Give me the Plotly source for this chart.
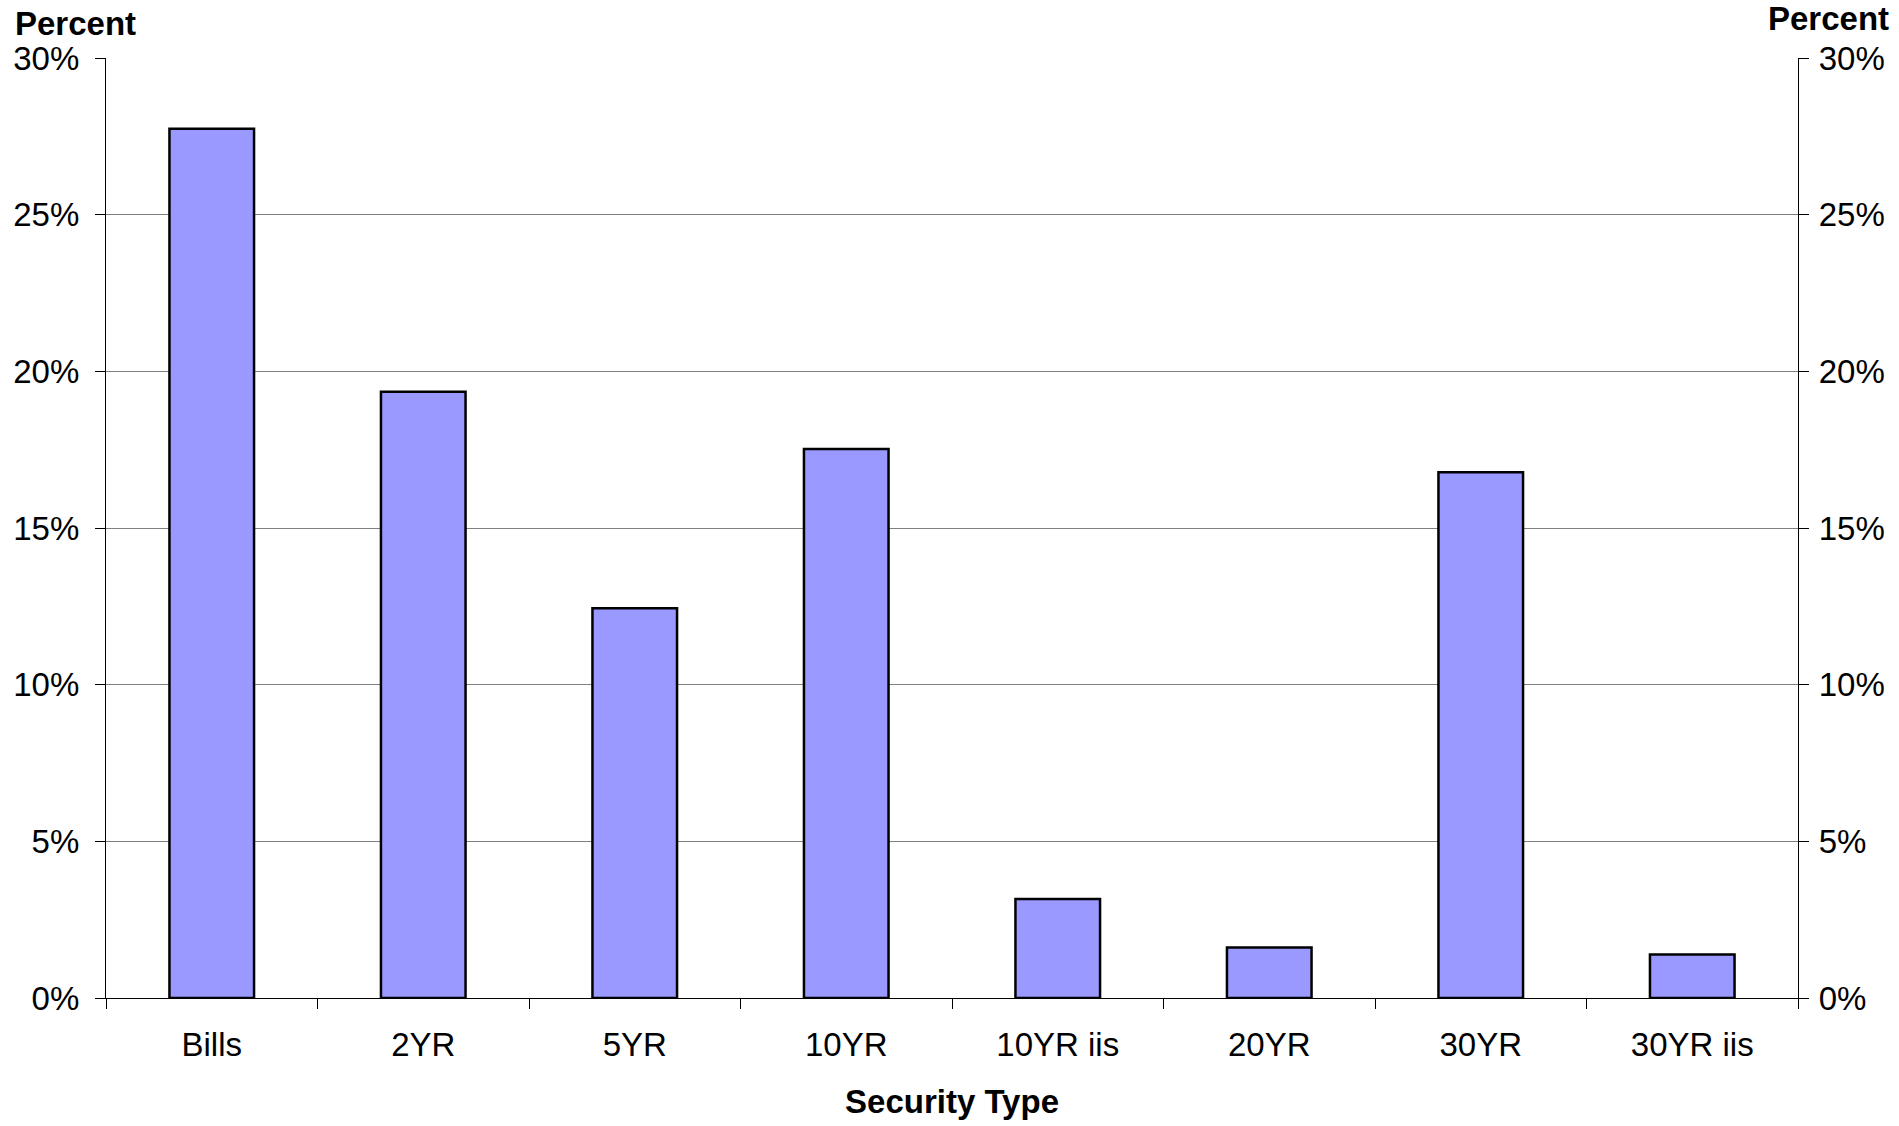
import plotly.graph_objects as go

# Share of issuance by security type (percent)
categories = ["Bills", "2YR", "5YR", "10YR", "10YR iis", "20YR", "30YR", "30YR iis"]
shares = [27.74, 19.35, 12.44, 17.52, 3.16, 1.61, 16.78, 1.39]
y_ticks = [0, 5, 10, 15, 20, 25, 30]
y_tick_text = [f"{v}%" for v in y_ticks]

FONT = "Liberation Sans, Arial, sans-serif"
BAR_FILL = "#9999FF"

fig = go.Figure()
fig.add_trace(go.Bar(
    x=categories,
    y=shares,
    marker=dict(color=BAR_FILL, line=dict(color="black", width=2.5)),
    hoverinfo="x+y",
    showlegend=False,
))
# Invisible companion trace so the right-hand axis is rendered
fig.add_trace(go.Scatter(
    x=categories,
    y=shares,
    yaxis="y2",
    mode="markers",
    marker=dict(size=0.1, opacity=0),
    hoverinfo="skip",
    showlegend=False,
))

axis_common = dict(
    range=[0, 30],
    tickvals=y_ticks,
    ticktext=y_tick_text,
    ticks="outside",
    ticklen=10,
    tickwidth=1,
    tickcolor="black",
    showline=True,
    linecolor="black",
    linewidth=1.2,
    tickfont=dict(family=FONT, size=33, color="black"),
    zeroline=False,
    fixedrange=True,
)

fig.update_layout(
    width=1899,
    height=1126,
    margin=dict(l=106, r=101, t=58, b=128),
    paper_bgcolor="white",
    plot_bgcolor="white",
    bargap=0.6,
    font=dict(family=FONT, color="black"),
    xaxis=dict(
        type="category",
        tickson="boundaries",
        ticks="outside",
        ticklen=10,
        tickwidth=1,
        tickcolor="black",
        showline=True,
        linecolor="black",
        linewidth=1.2,
        showgrid=False,
        tickfont=dict(family=FONT, size=33, color="black"),
        ticklabelstandoff=17,
        title=dict(text="<b>Security Type</b>",
                   font=dict(family=FONT, size=33, color="black"),
                   standoff=28),
        fixedrange=True,
    ),
    yaxis=dict(
        **axis_common,
        side="left",
        showgrid=True,
        gridcolor="#808080",
        gridwidth=1.2,
        ticklabelstandoff=9,
    ),
    yaxis2=dict(
        **axis_common,
        side="right",
        overlaying="y",
        showgrid=False,
        ticklabelstandoff=3,
    ),
    annotations=[
        dict(text="<b>Percent</b>", xref="paper", yref="paper",
             x=0, y=1, xanchor="left", yanchor="bottom",
             xshift=-93, yshift=14, showarrow=False,
             font=dict(family=FONT, size=33, color="black")),
        dict(text="<b>Percent</b>", xref="paper", yref="paper",
             x=1, y=1, xanchor="right", yanchor="bottom",
             xshift=93, yshift=19, showarrow=False,
             font=dict(family=FONT, size=33, color="black")),
    ],
)

fig.write_html("out.html")
